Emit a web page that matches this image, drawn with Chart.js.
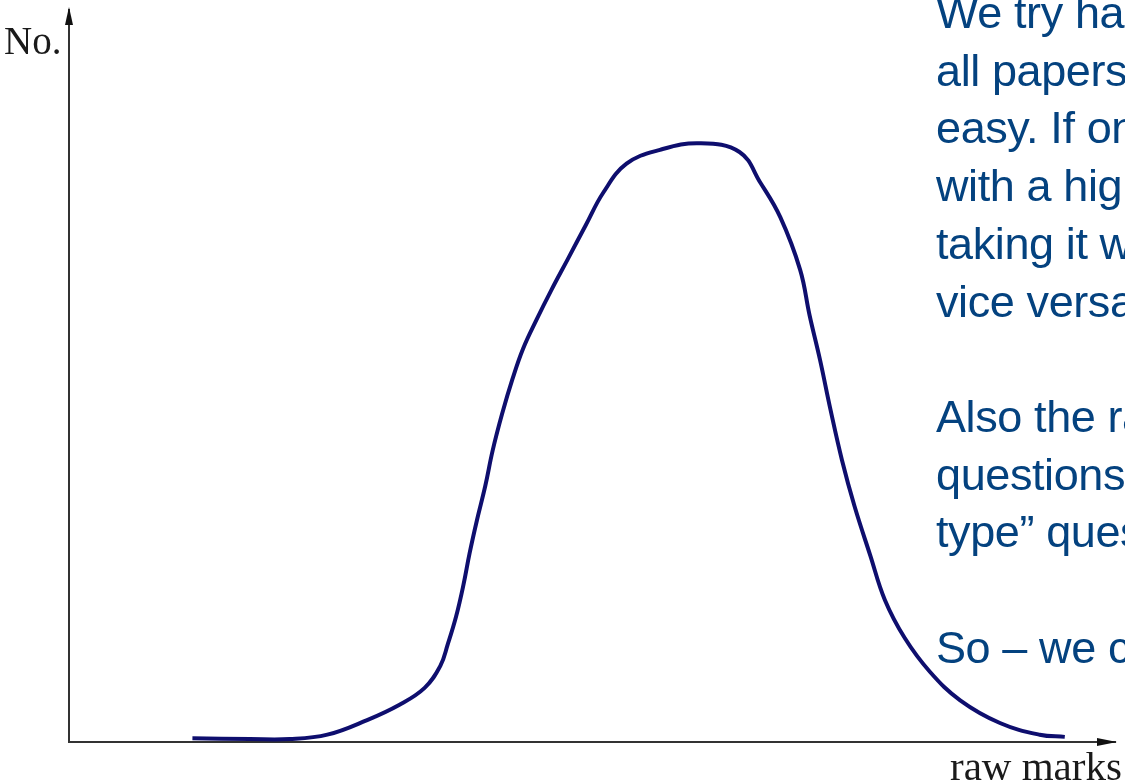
<!DOCTYPE html>
<html>
<head>
<meta charset="utf-8">
<script src="https://cdn.jsdelivr.net/npm/chart.js@4.4.1/dist/chart.umd.min.js"></script>
<style>
  html, body { margin: 0; padding: 0; background: #fff; overflow: hidden; }
  #wrap { position: relative; width: 1125px; height: 784px; overflow: hidden; }
  #chart { position: absolute; left: 0; top: 0; }
  .axisLabel { position: absolute; font-family: "Liberation Serif", "Times New Roman", serif; color: #1a1a1a; white-space: nowrap; }
  #notes { position: absolute; left: 936px; top: -16px; font-family: "Liberation Sans", Arial, sans-serif;
           font-size: 45px; line-height: 57.7px; letter-spacing: -0.4px; color: #04427f; white-space: nowrap; }
</style>
</head>
<body>
<div id="wrap">
  <canvas id="chart" width="1125" height="784"></canvas>
  <div class="axisLabel" id="yLabel" style="left:4px; top:21px; font-size:39px; line-height:39px;"></div>
  <div class="axisLabel" id="xLabel" style="left:950px; top:746px; font-size:41px; line-height:41px;"></div>
  <div id="notes"></div>
</div>
<script>
// Distribution of raw marks (hand-drawn bell curve)
const rawMarks = [11.8, 17.3, 21.1, 24.7, 28.5, 31.6, 34.0, 35.5, 36.2, 37.0, 37.7, 38.3, 39.0, 39.8,
                  40.5, 41.4, 42.4, 43.4, 44.7, 46.1, 47.7, 49.4, 51.1, 53.3, 56.5, 60.3, 64.1, 66.1,
                  68.0, 69.9, 70.8, 71.8, 72.8, 73.9, 75.1, 76.6, 78.0, 79.9, 82.3, 85.2, 89.0, 92.8, 95.2];
const numberOfCandidates = [0.5, 0.4, 0.4, 1.0, 3.0, 5.1, 7.4, 10.4, 13.3, 17.1, 21.4, 25.8, 30.3, 35.0,
                  39.8, 44.8, 49.6, 53.7, 57.7, 61.7, 66.0, 70.6, 75.1, 79.0, 80.9, 81.8, 80.6, 76.4,
                  71.7, 64.5, 58.3, 52.2, 45.4, 38.5, 32.2, 25.5, 19.4, 14.2, 9.6, 5.7, 2.6, 1.0, 0.7];

const yAxisLabel = 'No.';
const xAxisLabel = 'raw marks';
const noteLines = [
    'We try hard',
    'all papers',
    'easy. If one',
    'with a high',
    'taking it w',
    'vice versa',
    '',
    'Also the raw',
    'questions',
    'type\u201d questions',
    '',
    'So \u2013 we can'
];

document.getElementById('yLabel').textContent = yAxisLabel;
document.getElementById('xLabel').textContent = xAxisLabel;
document.getElementById('notes').innerHTML = noteLines.map(l => l === '' ? '&nbsp;' : l).join('<br>');

const points = rawMarks.map((x, i) => ({ x: x, y: numberOfCandidates[i] }));

// arrow heads at the ends of both axes
const axisArrows = {
    id: 'axisArrows',
    afterDraw(chart) {
        const { ctx, chartArea } = chart;
        const l = chartArea.left, b = chartArea.bottom, t = chartArea.top, r = chartArea.right;
        ctx.save();
        ctx.fillStyle = '#111';
        ctx.beginPath();
        ctx.moveTo(l, t - 3);
        ctx.lineTo(l - 4, t + 15);
        ctx.lineTo(l + 4, t + 15);
        ctx.closePath();
        ctx.fill();
        ctx.beginPath();
        ctx.moveTo(r + 2, b);
        ctx.lineTo(r - 18, b - 4);
        ctx.lineTo(r - 18, b + 4);
        ctx.closePath();
        ctx.fill();
        ctx.restore();
    }
};

new Chart(document.getElementById('chart'), {
    type: 'line',
    data: {
        datasets: [{
            data: points,
            borderColor: '#0e0e6e',
            borderWidth: 4,
            pointRadius: 0,
            fill: false,
            tension: 0.4
        }]
    },
    options: {
        responsive: false,
        animation: false,
        layout: { padding: { left: 69, right: 10, top: 10, bottom: 42 } },
        plugins: { legend: { display: false }, tooltip: { enabled: false } },
        scales: {
            x: {
                type: 'linear', min: 0, max: 100,
                grid: { display: false },
                border: { display: true, color: '#333', width: 2 },
                ticks: { display: false },
                afterFit: s => { s.height = 0; }
            },
            y: {
                min: 0, max: 100,
                grid: { display: false },
                border: { display: true, color: '#333', width: 2 },
                ticks: { display: false },
                afterFit: s => { s.width = 0; }
            }
        }
    },
    plugins: [axisArrows]
});
</script>
</body>
</html>
